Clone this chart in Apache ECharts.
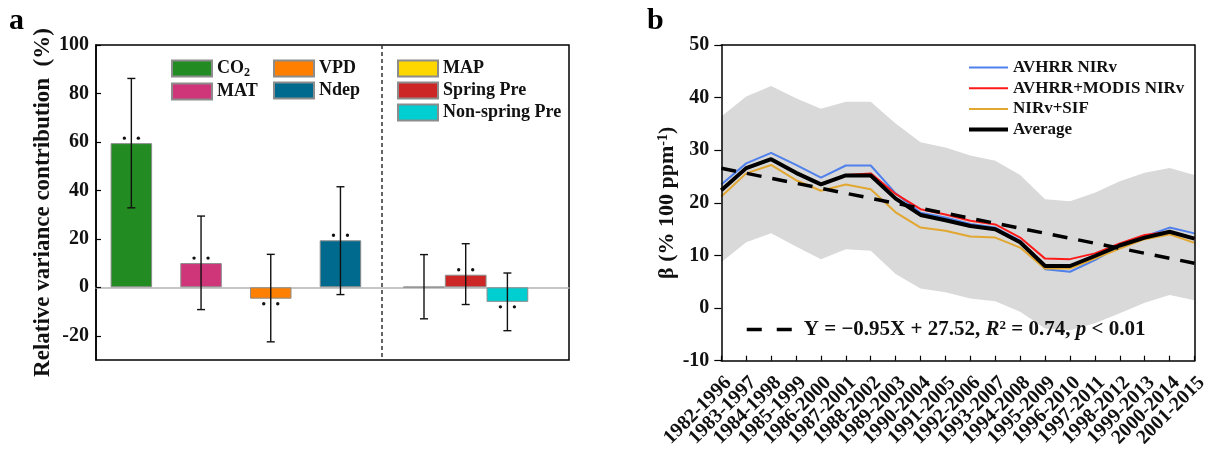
<!DOCTYPE html>
<html>
<head>
<meta charset="utf-8">
<script src="https://cdn.jsdelivr.net/npm/echarts@6/dist/echarts.min.js"></script>
<style>
  html, body { margin: 0; padding: 0; background: #fff; }
  #chart { width: 1214px; height: 452px; }
</style>
</head>
<body>
<div id="chart"></div>
<script>
// ---------- Panel a: relative variance contribution of each driver ----------
const factors = ['CO₂', 'MAT', 'VPD', 'Ndep', 'MAP', 'Spring Pre', 'Non-spring Pre'];
const contribution = [59.5, 10.0, -4.7, 19.4, 0.2, 5.2, -6.0];
const errLow = [32.8, -9.2, -22.5, -3.0, -13.0, -7.1, -17.9];
const errHigh = [86.2, 29.4, 13.6, 41.5, 13.5, 18.0, 5.9];
const significant = [true, true, true, true, false, true, true];
const factorColors = ['#228B22', '#CF3579', '#FF8000', '#006A8E', '#FFD700', '#CD2626', '#00CED1'];
const firstGroupSize = 4; // CO2..Ndep on the left of the divider, precipitation terms on the right
const aTicks = [-20, 0, 20, 40, 60, 80, 100];

// ---------- Panel b: beta over 15-year moving windows ----------
const periods = ['1982-1996', '1983-1997', '1984-1998', '1985-1999', '1986-2000',
  '1987-2001', '1988-2002', '1989-2003', '1990-2004', '1991-2005', '1992-2006',
  '1993-2007', '1994-2008', '1995-2009', '1996-2010', '1997-2011', '1998-2012',
  '1999-2013', '2000-2014', '2001-2015'];
const avhrrNirv = [23.5, 27.5, 29.5, 27.2, 24.8, 27.1, 27.1, 21.8, 18.1, 17.2, 16.0, 15.3, 12.8, 7.4, 6.9, 9.1, 11.8, 13.6, 15.3, 14.2];
const avhrrModisNirv = [22.5, 26.5, 28.3, 25.8, 23.6, 25.3, 25.6, 21.7, 18.8, 17.8, 16.6, 15.9, 13.4, 9.4, 9.3, 10.4, 12.3, 13.9, 14.5, 13.2];
const nirvSif = [21.2, 25.6, 27.2, 24.3, 22.3, 23.5, 22.6, 18.2, 15.3, 14.7, 13.6, 13.4, 11.5, 7.5, 7.5, 9.4, 11.3, 13.1, 14.0, 12.4];
const average = [22.4, 26.6, 28.3, 25.7, 23.5, 25.2, 25.2, 20.8, 17.7, 16.7, 15.6, 15.0, 12.5, 8.0, 8.0, 9.9, 11.9, 13.4, 14.5, 13.2];
const rangeUpper = [36.4, 40.2, 42.2, 39.9, 37.9, 39.2, 39.2, 35.1, 31.5, 30.5, 29.0, 28.0, 25.3, 20.7, 20.3, 21.9, 24.1, 25.7, 26.6, 25.3];
const rangeLower = [8.7, 12.5, 14.2, 11.7, 9.3, 11.2, 10.9, 6.5, 3.7, 3.0, 1.8, 1.3, -0.7, -3.9, -4.2, -2.9, -1.0, 1.0, 2.5, 1.5];
// Linear trend of the average, X = window number (1..20)
const FIT_SLOPE = -0.95;
const FIT_INTERCEPT = 27.52;
const FIT_R2 = 0.74;

const FONT = '"Liberation Serif", "Times New Roman", serif';
const INK = '#111';

// layout (pixels)
const A = { left: 96, top: 45, width: 473, height: 315 };
const A_LEFT = { left: 96.5, width: 278.8 };
const A_RIGHT = { left: 403.15, width: 125.1 };
const DIVIDER_X = 382;
const B = { left: 721.3, top: 45, width: 473.2, height: 315.7 };

const boldText = (size) => ({ fontFamily: FONT, fontWeight: 'bold', fontSize: size, color: INK });

const leftNames = factors.slice(0, firstGroupSize);
const rightNames = factors.slice(firstGroupSize);

function barSeries(names, offset, axisIndex, stackName, width) {
  return names.map((name, j) => ({
    type: 'bar',
    name: name,
    xAxisIndex: axisIndex,
    yAxisIndex: axisIndex,
    stack: stackName,
    barWidth: width,
    data: names.map((_, k) => (k === j ? contribution[offset + j] : '-')),
    itemStyle: { color: factorColors[offset + j], borderColor: '#8c8c8c', borderWidth: 1 },
    z: 2
  }));
}

function errorItem(params, api) {
  const cat = api.value(0);
  const hi = api.coord([cat, api.value(2)]);
  const lo = api.coord([cat, api.value(1)]);
  const end = api.coord([cat, api.value(3)]);
  const cap = 4;
  const stroke = { stroke: INK, lineWidth: 1.4 };
  const children = [
    { type: 'line', shape: { x1: hi[0], y1: hi[1], x2: lo[0], y2: lo[1] }, style: stroke },
    { type: 'line', shape: { x1: hi[0] - cap, y1: hi[1], x2: hi[0] + cap, y2: hi[1] }, style: stroke },
    { type: 'line', shape: { x1: lo[0] - cap, y1: lo[1], x2: lo[0] + cap, y2: lo[1] }, style: stroke }
  ];
  if (api.value(4)) {
    const dy = api.value(3) >= 0 ? -5 : 5;
    [-7, 7].forEach(dx => children.push({
      type: 'circle', shape: { cx: end[0] + dx, cy: end[1] + dy, r: 1.7 }, style: { fill: INK }
    }));
  }
  return { type: 'group', children };
}

function errorSeries(names, offset, axisIndex) {
  return {
    type: 'custom',
    xAxisIndex: axisIndex,
    yAxisIndex: axisIndex,
    renderItem: errorItem,
    silent: true,
    z: 4,
    data: names.map((_, j) => [j, errLow[offset + j], errHigh[offset + j], contribution[offset + j], significant[offset + j] ? 1 : 0])
  };
}

const fitStart = FIT_SLOPE * 1 + FIT_INTERCEPT;
const fitEnd = FIT_SLOPE * periods.length + FIT_INTERCEPT;
const fitLabel = `{g| }{t|Y = −${Math.abs(FIT_SLOPE).toFixed(2)}X + ${FIT_INTERCEPT.toFixed(2)}, }{i|R}{s|2}{t| = ${FIT_R2.toFixed(2)}, }{i|p}{t| < 0.01}`;

const hiddenCat = (gridIndex, data) => ({ type: 'category', gridIndex, data, show: false });
const hiddenVal = (gridIndex, min, max) => ({ type: 'value', gridIndex, min, max, show: false });

const barLegendBase = {
  orient: 'vertical', top: 59.5, padding: 0, itemWidth: 40, itemHeight: 16, itemGap: 4, icon: 'rect',
  selectedMode: false,
  textStyle: Object.assign(boldText(18), { rich: { s: { fontFamily: FONT, fontWeight: 'bold', fontSize: 12, color: INK, verticalAlign: 'bottom', padding: [8, 0, 0, 0] } } }),
  formatter: name => name.replace('₂', '{s|2}')
};

const option = {
  backgroundColor: '#fff',
  animation: false,
  title: [
    { text: 'a', left: 4, top: 1, textStyle: { fontFamily: FONT, fontWeight: 'bold', fontSize: 30, color: '#000' } },
    { text: 'b', left: 642, top: 1, textStyle: { fontFamily: FONT, fontWeight: 'bold', fontSize: 30, color: '#000' } }
  ],
  grid: [
    Object.assign({ show: true, borderColor: '#000', borderWidth: 1.5 }, A),
    { left: A_LEFT.left, width: A_LEFT.width, top: A.top, height: A.height },
    { left: A_RIGHT.left, width: A_RIGHT.width, top: A.top, height: A.height },
    Object.assign({}, B)
  ],
  xAxis: [
    {
      type: 'category', gridIndex: 0, data: [''],
      axisLine: { onZero: true, lineStyle: { color: '#b4b4b4', width: 1.5 } },
      axisTick: { show: false }, axisLabel: { show: false }
    },
    hiddenCat(1, leftNames),
    hiddenCat(2, rightNames),
    {
      type: 'category', gridIndex: 3, data: periods, boundaryGap: false,
      axisLine: { onZero: false, lineStyle: { color: '#000', width: 1.5 } },
      axisTick: { inside: true, length: 5, interval: 0, lineStyle: { color: '#000', width: 1.2 } },
      axisLabel: Object.assign(boldText(20), { rotate: 45, interval: 0, margin: 12, verticalAlign: 'top' }),
      z: 10
    },
    {
      type: 'category', gridIndex: 3, data: periods, boundaryGap: false, position: 'top',
      axisLine: { onZero: false, lineStyle: { color: '#000', width: 1.5 } },
      axisTick: { show: false }, axisLabel: { show: false }, z: 10
    }
  ],
  yAxis: [
    {
      type: 'value', gridIndex: 0, min: -30, max: 100,
      axisLine: { show: true, lineStyle: { color: '#000', width: 1.5 } },
      axisTick: { show: true, inside: true, length: 5, customValues: aTicks, lineStyle: { color: '#000', width: 1.2 } },
      axisLabel: Object.assign(boldText(20), { customValues: aTicks, margin: 7 }),
      splitLine: { show: false },
      name: 'Relative variance contribution  (%)',
      nameLocation: 'middle', nameGap: 41,
      nameTextStyle: boldText(23)
    },
    hiddenVal(1, -30, 100),
    hiddenVal(2, -30, 100),
    {
      type: 'value', gridIndex: 3, min: -10, max: 50, interval: 10,
      axisLine: { show: true, onZero: false, lineStyle: { color: '#000', width: 1.5 } },
      axisTick: { show: true, inside: false, length: 7, lineStyle: { color: '#000', width: 1.2 } },
      axisLabel: Object.assign(boldText(20), { margin: 12 }),
      splitLine: { show: false },
      name: 'β (% 100 ppm{sup|-1})',
      nameLocation: 'middle', nameGap: 43,
      nameTextStyle: Object.assign(boldText(22), {
        rich: { sup: { fontFamily: FONT, fontWeight: 'bold', fontSize: 14, color: INK, verticalAlign: 'top', padding: [0, 0, 8, 0] } }
      }),
      z: 10
    },
    {
      type: 'value', gridIndex: 3, min: -10, max: 50, position: 'right',
      axisLine: { show: true, onZero: false, lineStyle: { color: '#000', width: 1.5 } },
      axisTick: { show: false }, axisLabel: { show: false }, splitLine: { show: false }, z: 10
    }
  ],
  legend: [
    Object.assign({}, barLegendBase, { data: ['CO₂', 'MAT'], left: 171 }),
    Object.assign({}, barLegendBase, { data: ['VPD', 'Ndep'], left: 273 }),
    Object.assign({}, barLegendBase, { data: rightNames, left: 397 }),
    {
      data: ['AVHRR NIRv', 'AVHRR+MODIS NIRv', 'NIRv+SIF', 'Average'],
      orient: 'vertical', left: 967, top: 59, padding: 0, itemWidth: 39, itemHeight: 14, itemGap: 3.7,
      selectedMode: false, itemStyle: { opacity: 0 }, lineStyle: { width: 'inherit' },
      textStyle: boldText(17)
    },
    {
      data: ['Linear trend'],
      left: 745, top: 319, padding: 0, itemWidth: 45, itemHeight: 14,
      selectedMode: false, itemStyle: { opacity: 0 },
      lineStyle: { width: 'inherit', type: [15, 15] },
      formatter: () => fitLabel,
      textStyle: {
        rich: {
          g: { width: 7, fontSize: 21 },
          t: boldText(21),
          i: Object.assign(boldText(21), { fontStyle: 'italic' }),
          s: Object.assign(boldText(13), { verticalAlign: 'top', padding: [0, 0, 7, 0] })
        }
      }
    }
  ],
  series: [
    ...barSeries(leftNames, 0, 1, 'left', 41.5),
    ...barSeries(rightNames, firstGroupSize, 2, 'right', 41.7),
    errorSeries(leftNames, 0, 1),
    errorSeries(rightNames, firstGroupSize, 2),

    // spread across products (shaded range)
    {
      type: 'line', name: 'range-base', xAxisIndex: 3, yAxisIndex: 3,
      data: rangeLower, stack: 'range', stackStrategy: 'all',
      symbol: 'none', lineStyle: { width: 0, opacity: 0 }, silent: true, z: 1
    },
    {
      type: 'line', name: 'range', xAxisIndex: 3, yAxisIndex: 3,
      data: rangeUpper.map((u, i) => u - rangeLower[i]), stack: 'range', stackStrategy: 'all',
      symbol: 'none', lineStyle: { width: 0, opacity: 0 },
      areaStyle: { color: '#d9d9d9', opacity: 1 }, silent: true, z: 1
    },
    {
      type: 'line', name: 'AVHRR NIRv', xAxisIndex: 3, yAxisIndex: 3, data: avhrrNirv,
      symbol: 'none', lineStyle: { color: '#4F80EC', width: 2 }, itemStyle: { color: '#4F80EC' }, z: 3
    },
    {
      type: 'line', name: 'AVHRR+MODIS NIRv', xAxisIndex: 3, yAxisIndex: 3, data: avhrrModisNirv,
      symbol: 'none', lineStyle: { color: '#FF1A1A', width: 2 }, itemStyle: { color: '#FF1A1A' }, z: 3
    },
    {
      type: 'line', name: 'NIRv+SIF', xAxisIndex: 3, yAxisIndex: 3, data: nirvSif,
      symbol: 'none', lineStyle: { color: '#E2A731', width: 2 }, itemStyle: { color: '#E2A731' }, z: 3
    },
    {
      type: 'line', name: 'Average', xAxisIndex: 3, yAxisIndex: 3, data: average,
      symbol: 'none', lineStyle: { color: '#000', width: 4 }, itemStyle: { color: '#000' }, z: 4
    },
    {
      type: 'line', name: 'Linear trend', xAxisIndex: 3, yAxisIndex: 3,
      data: [[periods[0], fitStart], [periods[periods.length - 1], fitEnd]],
      symbol: 'none', lineStyle: { color: '#000', width: 3.5, type: [15, 11] }, itemStyle: { color: '#000' }, z: 5
    }
  ]
};

const chart = echarts.init(document.getElementById('chart'), null, { renderer: 'canvas' });
chart.setOption(option);

// dashed divider between the temperature/CO2 group and the precipitation group
chart.setOption({
  graphic: [{
    type: 'line',
    shape: { x1: DIVIDER_X, y1: A.top, x2: DIVIDER_X, y2: A.top + A.height },
    style: { stroke: '#333', lineWidth: 1.5, lineDash: [4, 3] },
    z: 5
  }]
});
</script>
</body>
</html>
